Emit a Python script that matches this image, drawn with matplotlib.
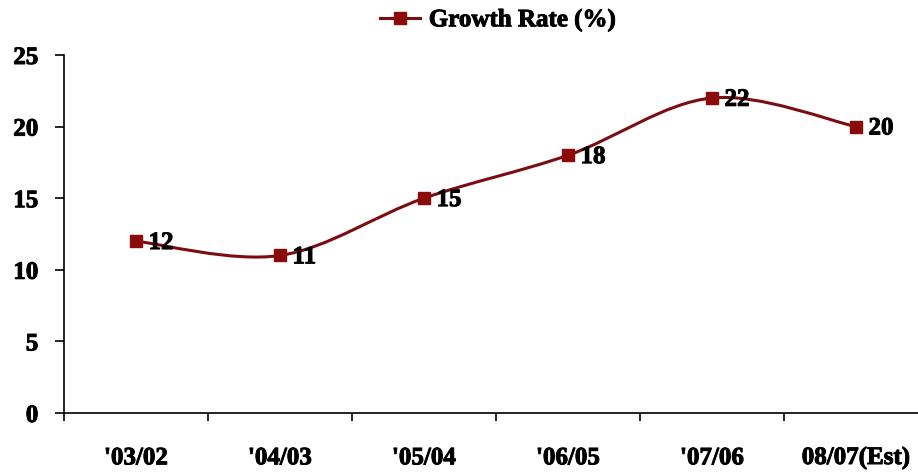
import numpy as np
import matplotlib
matplotlib.use('Agg')
import matplotlib.pyplot as plt
import matplotlib.patheffects as pe
from matplotlib.path import Path
from matplotlib.patches import PathPatch
from matplotlib.lines import Line2D

# Year-on-year growth, last period is an estimate
periods = ["'03/02", "'04/03", "'05/04", "'06/05", "'07/06", "08/07(Est)"]
growth = [12, 11, 15, 18, 22, 20]

LINE_COLOR = '#7b0d12'
MARKER_COLOR = '#8b0a0a'
FONT_SIZE = 18

plt.rcParams['font.family'] = ['Liberation Serif', 'DejaVu Serif']
plt.rcParams['font.weight'] = 'bold'

# heavier strokes for all the bold text
HEAVY = [pe.withStroke(linewidth=0.7, foreground='black')]


def smooth_path(xs, ys, tension=1 / 6):
    """Cubic Bezier through every point (Catmull-Rom style control points)."""
    pts = np.column_stack([xs, ys]).astype(float)
    n = len(pts)
    verts = [pts[0]]
    codes = [Path.MOVETO]
    for i in range(n - 1):
        p_prev = pts[max(i - 1, 0)]
        p0, p1 = pts[i], pts[i + 1]
        p_next = pts[min(i + 2, n - 1)]
        c1 = p0 + (p1 - p_prev) * tension
        c2 = p1 - (p_next - p0) * tension
        verts += [c1, c2, p1]
        codes += [Path.CURVE4] * 3
    return Path(verts, codes)


fig = plt.figure(figsize=(9.18, 4.73), dpi=100)
ax = fig.add_axes([64 / 918, 1 - 413 / 473, 864 / 918, 358 / 473])

x = np.arange(len(periods))
ax.add_patch(PathPatch(smooth_path(x, growth), facecolor='none',
                       edgecolor=LINE_COLOR, lw=2.2, zorder=2))
ax.plot(x, growth, linestyle='none', marker='s', markersize=9,
        color=MARKER_COLOR, zorder=3)

for xi, val in zip(x, growth):
    ax.annotate(f'{val}', (xi, val), xytext=(9, -1), textcoords='offset points',
                ha='left', va='center', fontsize=FONT_SIZE, fontweight='bold',
                color='black', path_effects=HEAVY)

ax.set_xlim(-0.5, len(periods) - 0.5)
ax.set_ylim(0, 25)
ax.set_yticks(range(0, 26, 5))
ax.set_xticks(x)
ax.set_xticklabels(periods)
ax.set_xticks(np.arange(-0.5, len(periods), 1.0), minor=True)

ax.tick_params(axis='x', which='major', length=0, pad=24, labelsize=FONT_SIZE)
ax.tick_params(axis='x', which='minor', length=6, width=1.2, direction='out')
ax.tick_params(axis='y', length=6.5, width=1.2, direction='out', pad=12,
               labelsize=FONT_SIZE)
for lab in ax.get_xticklabels() + ax.get_yticklabels():
    lab.set_fontweight('bold')
    lab.set_path_effects(HEAVY)

for side in ('top', 'right'):
    ax.spines[side].set_visible(False)
for side in ('left', 'bottom'):
    ax.spines[side].set_linewidth(1.2)
    ax.spines[side].set_color('black')

handle = Line2D([], [], color=LINE_COLOR, lw=2.2, marker='s', markersize=9,
                markerfacecolor=MARKER_COLOR, markeredgecolor=MARKER_COLOR)
leg = fig.legend([handle], ['Growth Rate (%)'], loc='center',
                 bbox_to_anchor=(498 / 918, 1 - 20 / 473), frameon=False,
                 prop={'size': FONT_SIZE, 'weight': 'bold'}, handlelength=1.6,
                 handletextpad=0.35, borderpad=0)
for t in leg.get_texts():
    t.set_path_effects(HEAVY)

fig.savefig('out.png', dpi=100)
